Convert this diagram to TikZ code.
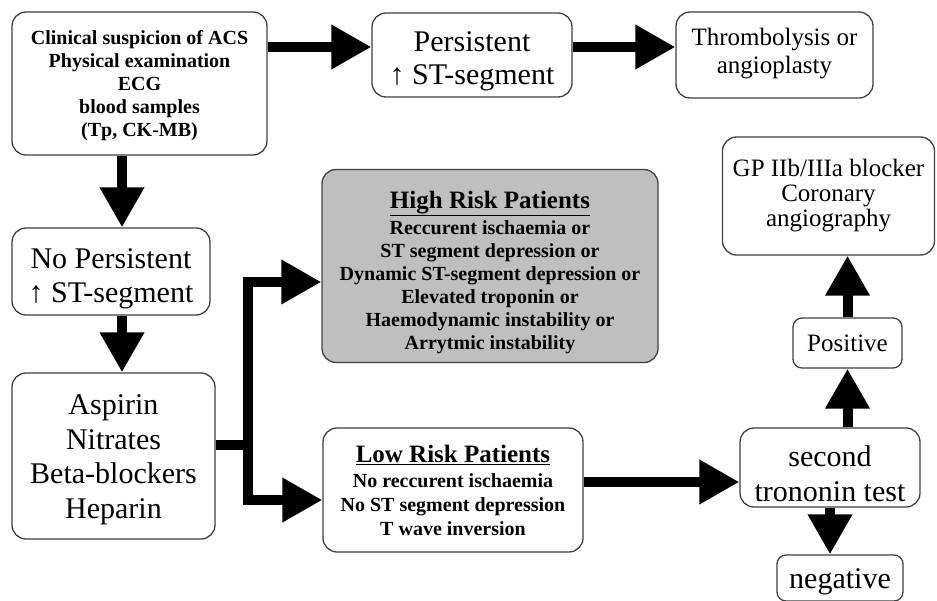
\documentclass[tikz,border=0pt]{standalone}
\usepackage{fontspec}
\setmainfont{Liberation Serif}
\usetikzlibrary{arrows.meta,calc}
\tikzset{
  box/.style={draw=black!75, line width=1.3pt, rounded corners=14pt, inner sep=0pt, fill=white},
  smallbox/.style={box, rounded corners=9pt},
  txt/.style={align=center, inner sep=0pt},
  arr/.style={line width=10pt, line join=miter, -{Triangle[length=40pt,width=42pt]}},
  thick line/.style={line width=10pt, line join=miter},
  fsmall/.style={font=\fontsize{20}{23}\selectfont\bfseries},
  fmed/.style={font=\fontsize{25}{25}\selectfont},
  flarge/.style={font=\fontsize{30}{34}\selectfont},
}
\begin{document}
\begin{tikzpicture}[x=1pt,y=-1pt]
\useasboundingbox[fill=white] (0,0) rectangle (937,600);

% boxes
\node[box, minimum width=255pt, minimum height=143pt] (A) at (139.5,83.5) {};
\node[box, minimum width=200pt, minimum height=84pt] (pers) at (472,55) {};
\node[box, minimum width=197pt, minimum height=86pt] (thromb) at (774.5,55) {};
\node[box, minimum width=198pt, minimum height=87pt] (nopers) at (111,271.5) {};
\node[box, minimum width=203pt, minimum height=166pt] (asp) at (113.5,456) {};
\node[box, fill=gray!50, minimum width=336pt, minimum height=193pt] (high) at (490,266) {};
\node[box, minimum width=260pt, minimum height=124pt] (low) at (453,490) {};
\node[box, minimum width=180pt, minimum height=79pt] (second) at (830,467.5) {};
\node[smallbox, minimum width=109pt, minimum height=50pt] (pos) at (847.5,343) {};
\node[box, minimum width=212pt, minimum height=118pt] (gp) at (828.5,196) {};
\node[smallbox, minimum width=126pt, minimum height=46pt] (neg) at (840,578) {};

% texts
\node[txt, fsmall] (At) at ([yshift=-2pt]A.center)
  {Clinical suspicion of ACS\\Physical examination\\ECG\\blood samples\\(Tp, CK-MB)};
\node[txt, font=\fontsize{30}{33}\selectfont] (perst) at ([yshift=-6pt]pers.center)
  {Persistent\\↑ ST-segment};
\node[txt, font=\fontsize{25}{28}\selectfont] (thrombt) at ([yshift=1pt]thromb.center)
  {Thrombolysis or\\angioplasty};
\node[txt, flarge] (noperst) at ([yshift=-7pt]nopers.center)
  {No Persistent\\↑ ST-segment};
\node[txt, font=\fontsize{30}{34.5}\selectfont] (aspt) at ([yshift=-4pt]asp.center)
  {Aspirin\\Nitrates\\Beta-blockers\\Heparin};
\node[txt, fsmall] (hight) at ([yshift=-6pt]high.center)
  {{\fontsize{25}{27}\selectfont\underline{High Risk Patients}}\\[3pt]Reccurent ischaemia or\\ST segment depression or\\Dynamic ST-segment depression or\\Elevated troponin or\\Haemodynamic instability or\\Arrytmic instability};
\node[txt, font=\fontsize{20}{24}\selectfont\bfseries] (lowt) at (low.center)
  {{\fontsize{25}{27}\selectfont\underline{Low Risk Patients}}\\[1pt]No reccurent ischaemia\\No ST segment depression\\T wave inversion};
\node[txt, font=\fontsize{30}{35}\selectfont] (secondt) at ([yshift=-6pt]second.center)
  {second\\trononin test};
\node[txt, fmed] (post) at (pos.center) {Positive};
\node[txt, fmed] (gpt) at (gp.center)
  {GP IIb/IIIa blocker\\Coronary\\angiography};
\node[txt, flarge] (negt) at ([yshift=-4pt]neg.center) {negative};

% connectors
\coordinate (pw) at ([yshift=8pt]pers.west);
\draw[arr] (A.east |- pw) -- (pw);
\draw[arr] ([yshift=8pt]pers.east) -- ([yshift=8pt]pers.east -| thromb.west);
\coordinate (ad) at ([xshift=11pt]nopers.north);
\draw[arr] (ad |- A.south) -- (ad);
\draw[arr] ([xshift=11pt]nopers.south) -- ([xshift=11pt]nopers.south |- asp.north);
\coordinate (br) at (248,445);
\draw[thick line] ([yshift=11pt]asp.east) -- (br);
\draw[arr] (br) |- ([yshift=-16pt]high.west);
\draw[arr] (br) |- ([yshift=-10pt]low.west);
\draw[arr] ([yshift=8pt]low.east) -- ([yshift=8pt]low.east -| second.west);
\draw[arr] (second.north -| pos.south) -- (pos.south);
\draw[arr] (pos.north) -- (pos.north |- gp.south);
\draw[arr] (second.south) -- (second.south |- neg.north);
\end{tikzpicture}
\end{document}
